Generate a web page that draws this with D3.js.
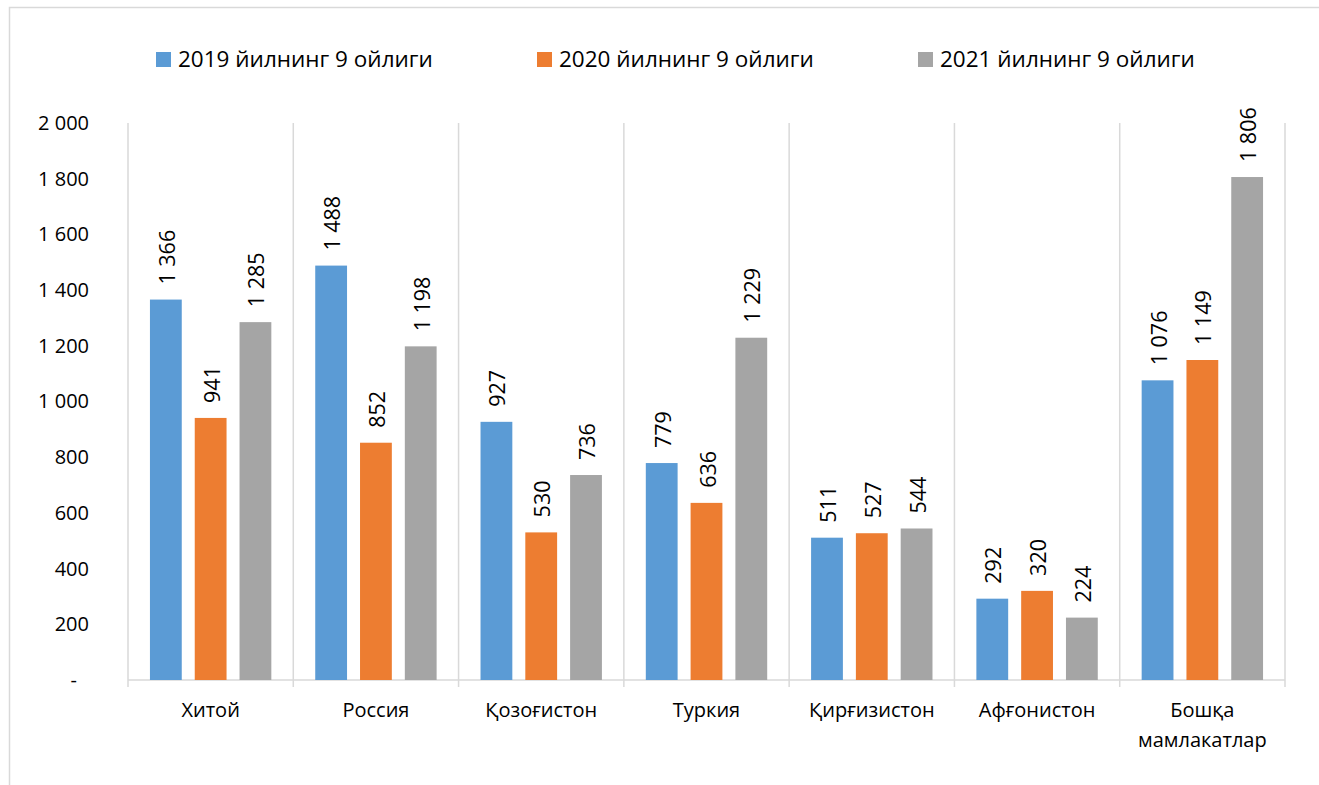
<!DOCTYPE html>
<html>
<head>
<meta charset="utf-8">
<script src="https://cdn.jsdelivr.net/npm/d3@7"></script>
<style>
  body { margin: 0; background: #fff; }
  svg text { font-family: "Open Sans", "Noto Sans", sans-serif; fill: #000; }
</style>
</head>
<body>
<div id="chart"></div>
<script>
const categories = ["Хитой", "Россия", "Қозоғистон", "Туркия", "Қирғизистон", "Афғонистон", "Бошқа мамлакатлар"];
const seriesNames = ["2019 йилнинг 9 ойлиги", "2020 йилнинг 9 ойлиги", "2021 йилнинг 9 ойлиги"];
const values2019 = [1366, 1488, 927, 779, 511, 292, 1076];
const values2020 = [941, 852, 530, 636, 527, 320, 1149];
const values2021 = [1285, 1198, 736, 1229, 544, 224, 1806];
const yTicks = [0, 200, 400, 600, 800, 1000, 1200, 1400, 1600, 1800, 2000];
const colors = ["#5B9BD5", "#ED7D31", "#A5A5A5"];

const size = {
    width: 1319,
    height: 785,
    plot: { left: 128, right: 1285, top: 123, bottom: 680 }
};

const fmt = (v) => {
    if (v === 0) return "-";
    return d3.format(",")(v).replace(/,/g, " ");
};

const drawChart = function(size) {
    const series = [values2019, values2020, values2021];

    const svg = d3.select("#chart")
        .append("svg")
        .attr("width", size.width)
        .attr("height", size.height);

    // chart frame
    svg.append("rect")
        .attr("x", 9.5).attr("y", 7.5)
        .attr("width", size.width + 20).attr("height", size.height + 20)
        .attr("fill", "none")
        .attr("stroke", "#d9d9d9")
        .attr("stroke-width", 1.5);

    const x = d3.scaleBand()
        .domain(categories)
        .range([size.plot.left, size.plot.right])
        .paddingInner(0)
        .paddingOuter(0);

    const xInner = d3.scaleBand()
        .domain(d3.range(seriesNames.length))
        .range([0, x.bandwidth()])
        .paddingInner(0.29)
        .paddingOuter(0.49);

    const y = d3.scaleLinear()
        .domain([0, 2000])
        .range([size.plot.bottom, size.plot.top]);

    // vertical separators between categories
    const seps = categories.map((c) => x(c)).concat([size.plot.right]);
    svg.append("g")
        .selectAll("line")
        .data(seps)
        .join("line")
        .attr("x1", (d) => d).attr("x2", (d) => d)
        .attr("y1", size.plot.top).attr("y2", size.plot.bottom + 7)
        .attr("stroke", "#d9d9d9")
        .attr("stroke-width", 1.5);

    // x axis line
    svg.append("line")
        .attr("x1", size.plot.left).attr("x2", size.plot.right)
        .attr("y1", size.plot.bottom).attr("y2", size.plot.bottom)
        .attr("stroke", "#d9d9d9")
        .attr("stroke-width", 1.5);

    // y axis labels
    const yAxis = svg.append("g")
        .attr("transform", `translate(89,0)`)
        .call(d3.axisLeft(y).tickValues(yTicks).tickSize(0).tickPadding(0).tickFormat(fmt));
    yAxis.select(".domain").remove();
    yAxis.selectAll("text")
        .attr("font-size", 20)
        .attr("font-family", "'Open Sans', sans-serif")
        .attr("fill", "#000")
        .attr("dx", (d) => d === 0 ? -12 : 0);

    // bars
    series.forEach((vals, si) => {
        const g = svg.append("g");
        g.selectAll("rect")
            .data(vals)
            .join("rect")
            .attr("x", (d, i) => x(categories[i]) + xInner(si))
            .attr("y", (d) => y(d))
            .attr("width", xInner.bandwidth())
            .attr("height", (d) => y(0) - y(d))
            .attr("fill", colors[si]);

        g.selectAll("text")
            .data(vals)
            .join("text")
            .attr("transform", (d, i) => {
                const cx = x(categories[i]) + xInner(si) + xInner.bandwidth() / 2;
                return `translate(${cx + 9},${y(d) - 15}) rotate(-90)`;
            })
            .attr("font-size", 21.5)
            .text(fmt);
    });

    // category labels
    const xl = svg.append("g")
        .selectAll("text")
        .data(categories)
        .join("text")
        .attr("x", (d) => x(d) + x.bandwidth() / 2)
        .attr("y", 717)
        .attr("text-anchor", "middle")
        .attr("font-size", 20);
    xl.each(function(d) {
        const words = d.split(" ");
        const t = d3.select(this);
        words.forEach((w, i) => {
            t.append("tspan")
                .attr("x", x(d) + x.bandwidth() / 2)
                .attr("dy", i === 0 ? 0 : 30)
                .text(w);
        });
    });

    // legend
    const legendX = [156, 537, 918];
    const legend = svg.append("g");
    seriesNames.forEach((name, i) => {
        legend.append("rect")
            .attr("x", legendX[i]).attr("y", 52)
            .attr("width", 15).attr("height", 15)
            .attr("fill", colors[i]);
        legend.append("text")
            .attr("x", legendX[i] + 22).attr("y", 67)
            .attr("font-size", 22.5)
            .text(name);
    });
};

window.onload = () => {
    drawChart(size);
};
</script>
</body>
</html>
